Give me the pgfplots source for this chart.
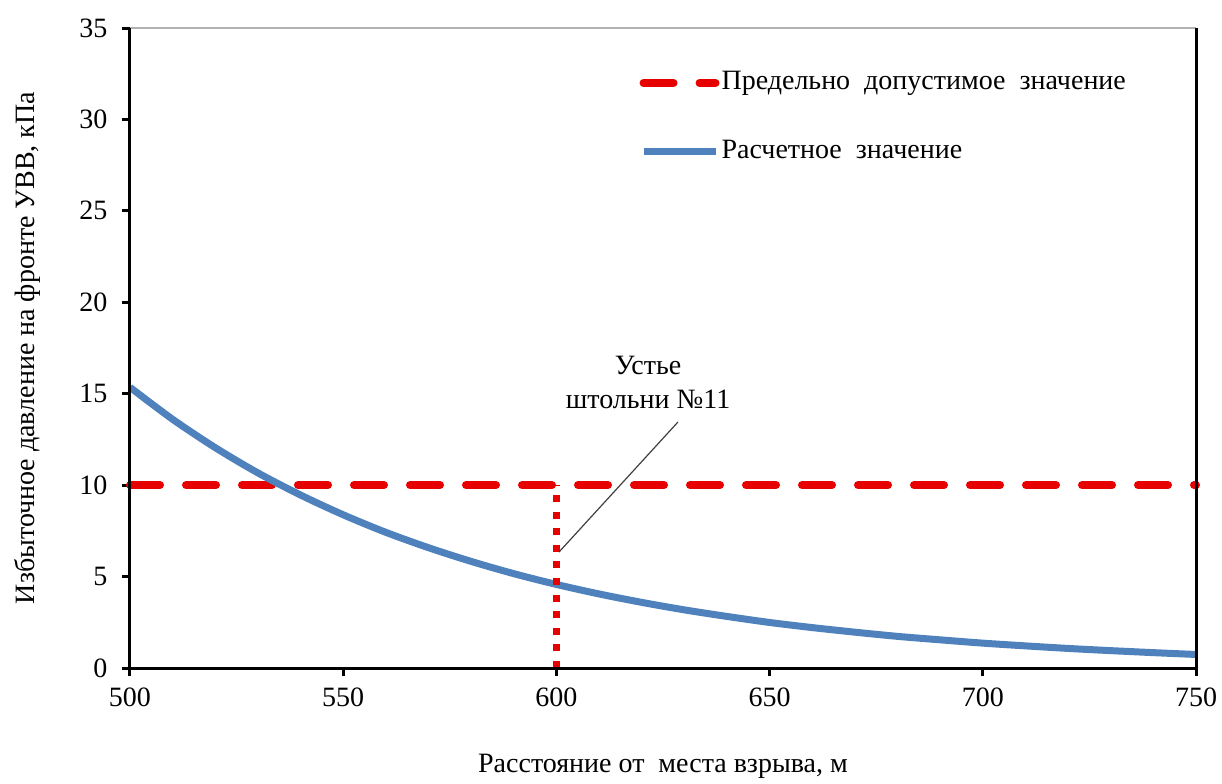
\documentclass[border=0pt]{standalone}
\usepackage{fontspec}
\setmainfont{Liberation Serif}
\usepackage{pgfplots}
\pgfplotsset{compat=1.18}
\definecolor{exblue}{RGB}{79,129,189}
\definecolor{exred}{RGB}{230,0,0}
\begin{document}
\fontsize{14}{16}\selectfont
\begin{tikzpicture}
\begin{axis}[
  scale only axis, width=533pt, height=320pt,
  xmin=500, xmax=750, ymin=0, ymax=35,
  xtick={500,550,...,750}, ytick={0,5,...,35},
  axis line style={draw=none},
  tick align=outside, major tick length=4pt,
  tick style={black, line width=1.5pt},
  xtick pos=bottom, ytick pos=left,
  /pgf/number format/assume math mode=true,
  /pgf/number format/1000 sep={},
  ticklabel style={font=\fontsize{14}{16}\selectfont},
  yticklabel style={xshift=-2.5pt},
  xticklabel style={yshift=-1pt},
  label style={font=\fontsize{14}{16}\selectfont},
  xlabel={Расстояние от\ \ места взрыва, м},
  ylabel={Избыточное давление на фронте УВВ, кПа},
  xlabel style={yshift=-14pt},
  ylabel style={yshift=10pt},
  legend style={at={(0.472,0.945)}, anchor=north west, draw=none, fill=none,
    font=\fontsize{14}{16}\selectfont, row sep=19pt,
    nodes={inner xsep=1pt},
    /tikz/every even column/.append style={column sep=0pt}},
  legend cell align=left,
  legend image code/.code={\draw[#1] (0pt,0pt) -- (36pt,0pt);},
  clip=false,
]
\addplot[exred, line width=4pt, line cap=round, dash pattern=on 15pt off 13pt] coordinates {(500,10) (750,10)};
\addlegendentry{Предельно\ \ допустимое\ \ значение}
\addplot[exblue, line width=3.5pt, smooth] coordinates {
(500,15.35) (510,13.60) (520,12.05) (530,10.67) (540,9.46) (550,8.38) (560,7.42)
(570,6.58) (580,5.83) (590,5.16) (600,4.57) (610,4.05) (620,3.59) (630,3.18)
(640,2.82) (650,2.49) (660,2.21) (670,1.96) (680,1.73) (690,1.54) (700,1.36)
(710,1.21) (720,1.07) (730,0.95) (740,0.84) (750,0.74)};
\addlegendentry{Расчетное\ \ значение}
\addplot[exred, line width=3.3pt, dash pattern=on 3.5pt off 4.8pt, forget plot] coordinates {(600,0) (600,10)};
\draw[black!75, line width=0.6pt] (axis cs:628.5,13.45) -- (axis cs:600.6,6.34);
\node[align=center, font=\fontsize{14}{17}\selectfont] at (axis cs:621.5,15.6) {Устье\\штольни №11};
\draw[gray!60, line width=0.8pt] (rel axis cs:0,1) -- (rel axis cs:1,1);
\draw[black, line width=1.5pt] (rel axis cs:1,1) -- (rel axis cs:1,0) -- (rel axis cs:0,0) -- (rel axis cs:0,1);
\end{axis}
\pgfresetboundingbox
\path (-65pt,-57.5pt) rectangle (546pt,334pt);
\end{tikzpicture}
\end{document}
